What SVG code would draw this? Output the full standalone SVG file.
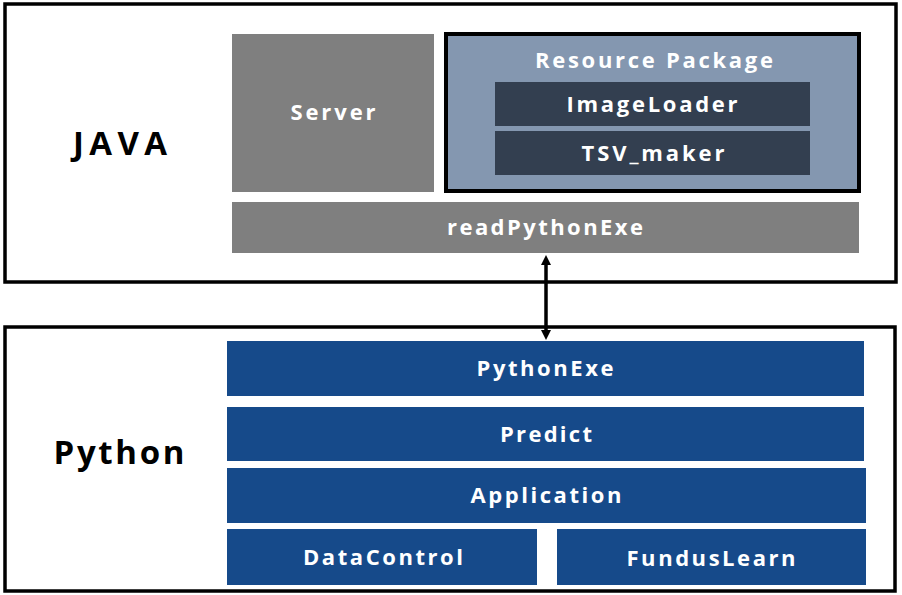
<svg xmlns="http://www.w3.org/2000/svg" width="902" height="595" viewBox="0 0 902 595">
<style>
.frame{fill:#ffffff;stroke:#000000;stroke-width:3.5}
.gray{fill:#7f7f7f}
.pkg{fill:#8497b0;stroke:#000000;stroke-width:4}
.dark{fill:#333f50}
.blue{fill:#164a8a}
.lbl{font-family:"Open Sans","Noto Sans","Liberation Sans",sans-serif;font-weight:700;font-size:22px;fill:#ffffff;text-anchor:middle}
.title{font-family:"Open Sans","Noto Sans","Liberation Sans",sans-serif;font-weight:700;font-size:33px;fill:#000000;text-anchor:middle}
.conn{stroke:#000000;stroke-width:3.5;fill:none}
</style>
<defs>
<marker id="ah" viewBox="0 0 10 10" refX="5" refY="5" markerWidth="10" markerHeight="10" markerUnits="userSpaceOnUse" orient="auto-start-reverse">
<path d="M0,0 L10,5 L0,10 z" fill="#000000"/>
</marker>
</defs>
<rect width="902" height="595" fill="#ffffff"/>
<g id="java">
<rect class="frame" x="5" y="4" width="891" height="278"/>
<text class="title" x="120" y="155" textLength="94" lengthAdjust="spacing">JAVA</text>
</g>
<g id="server">
<rect class="gray" x="232" y="34" width="202" height="158"/>
<text class="lbl" x="333" y="120" textLength="85" lengthAdjust="spacing">Server</text>
</g>
<g id="resource-package">
<rect class="pkg" x="446" y="34" width="413" height="157"/>
<text class="lbl" x="654" y="68" textLength="238" lengthAdjust="spacing">Resource Package</text>
</g>
<g id="imageloader">
<rect class="dark" x="495" y="82" width="315" height="44"/>
<text class="lbl" x="652" y="112" textLength="171" lengthAdjust="spacing">ImageLoader</text>
</g>
<g id="tsv-maker">
<rect class="dark" x="495" y="131" width="315" height="44"/>
<text class="lbl" x="653" y="161" textLength="143" lengthAdjust="spacing">TSV_maker</text>
</g>
<g id="readpythonexe">
<rect class="gray" x="232" y="202" width="627" height="51"/>
<text class="lbl" x="545" y="235" textLength="196" lengthAdjust="spacing">readPythonExe</text>
</g>
<g id="python">
<rect class="frame" x="5" y="327" width="890" height="264"/>
<text class="title" x="119" y="464" textLength="131" lengthAdjust="spacing">Python</text>
</g>
<g id="pythonexe">
<rect class="blue" x="227" y="341" width="637" height="55"/>
<text class="lbl" x="545" y="376" textLength="137" lengthAdjust="spacing">PythonExe</text>
</g>
<g id="predict">
<rect class="blue" x="227" y="407" width="637" height="54"/>
<text class="lbl" x="546" y="442" textLength="92" lengthAdjust="spacing">Predict</text>
</g>
<g id="application">
<rect class="blue" x="227" y="468" width="639" height="55"/>
<text class="lbl" x="546" y="503" textLength="151" lengthAdjust="spacing">Application</text>
</g>
<g id="datacontrol">
<rect class="blue" x="227" y="529" width="310" height="56"/>
<text class="lbl" x="383" y="565" textLength="160" lengthAdjust="spacing">DataControl</text>
</g>
<g id="funduslearn">
<rect class="blue" x="557" y="529" width="309" height="56"/>
<text class="lbl" x="711" y="566" textLength="169" lengthAdjust="spacing">FundusLearn</text>
</g>
<g id="connectors">
<line class="conn" x1="546" y1="260" x2="546" y2="335" marker-start="url(#ah)" marker-end="url(#ah)"/>
</g>
</svg>
